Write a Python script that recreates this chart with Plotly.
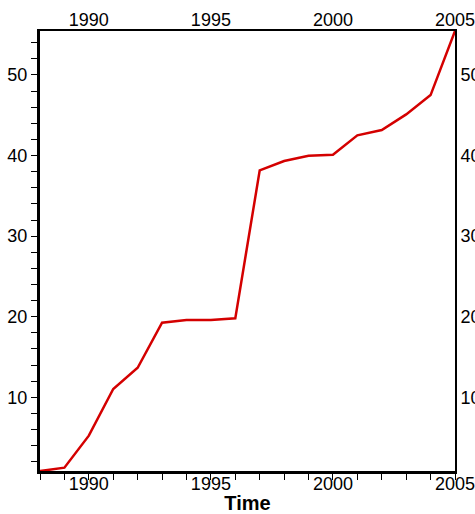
import plotly.graph_objects as go

years = list(range(1988, 2006))
values = [0.86, 1.27, 5.24, 11.03, 13.67, 19.26, 19.59, 19.59, 19.8, 38.16,
          39.32, 39.98, 40.1, 42.5, 43.16, 45.1, 47.5, 55.45]
x_title = "Time"
line_color = "#d40000"

font = dict(family="Liberation Sans, Arial, sans-serif", size=18, color="black")

fig = go.Figure()
fig.add_trace(go.Scatter(x=years, y=values, mode="lines",
                         line=dict(color=line_color, width=2.5),
                         showlegend=False, hoverinfo="skip"))
fig.add_trace(go.Scatter(x=years, y=values, mode="lines", xaxis="x2", yaxis="y2",
                         line=dict(color="rgba(0,0,0,0)", width=0),
                         showlegend=False, hoverinfo="skip"))

yr = [min(values), max(values)]
xr = [min(years), max(years)]

fig.update_layout(
    width=475, height=514,
    margin=dict(l=40, r=20, t=31, b=43),
    paper_bgcolor="white", plot_bgcolor="white",
    font=font,
    xaxis=dict(range=xr, showline=True, linecolor="black", linewidth=3,
               ticks="outside", ticklen=6, tickwidth=1, tickcolor="black",
               tick0=1990, dtick=5, showgrid=False, zeroline=False, automargin=False,
               ticklabelstandoff=-12, ticklabeloverflow="allow",
               minor=dict(dtick=1, tick0=1988, ticks="outside", ticklen=6, tickwidth=1, tickcolor="black", showgrid=False),
               title=dict(text="<b>" + x_title + "</b>", font=dict(size=20), standoff=0)),
    xaxis2=dict(range=xr, overlaying="x", side="top", matches="x", showline=True,
                linecolor="black", linewidth=2, ticks="", tick0=1990, dtick=5,
                ticklabelstandoff=-4, ticklabeloverflow="allow",
                showgrid=False, zeroline=False, automargin=False),
    yaxis=dict(range=yr, showline=True, linecolor="black", linewidth=3,
               ticks="outside", ticklen=6, tickwidth=1, tickcolor="black",
               tick0=0, dtick=10, showgrid=False, zeroline=False, automargin=False,
               minor=dict(dtick=2, tick0=0, ticks="outside", ticklen=6, tickwidth=1, tickcolor="black", showgrid=False)),
    yaxis2=dict(range=yr, overlaying="y", side="right", matches="y", showline=True,
                linecolor="black", linewidth=2, ticks="", tick0=0, dtick=10,
                ticklabeloverflow="allow",
                showgrid=False, zeroline=False, automargin=False),
)

fig.write_html("out.html", config={"displayModeBar": False},
               post_script="document.body.style.margin='0';document.body.style.overflow='hidden';")
